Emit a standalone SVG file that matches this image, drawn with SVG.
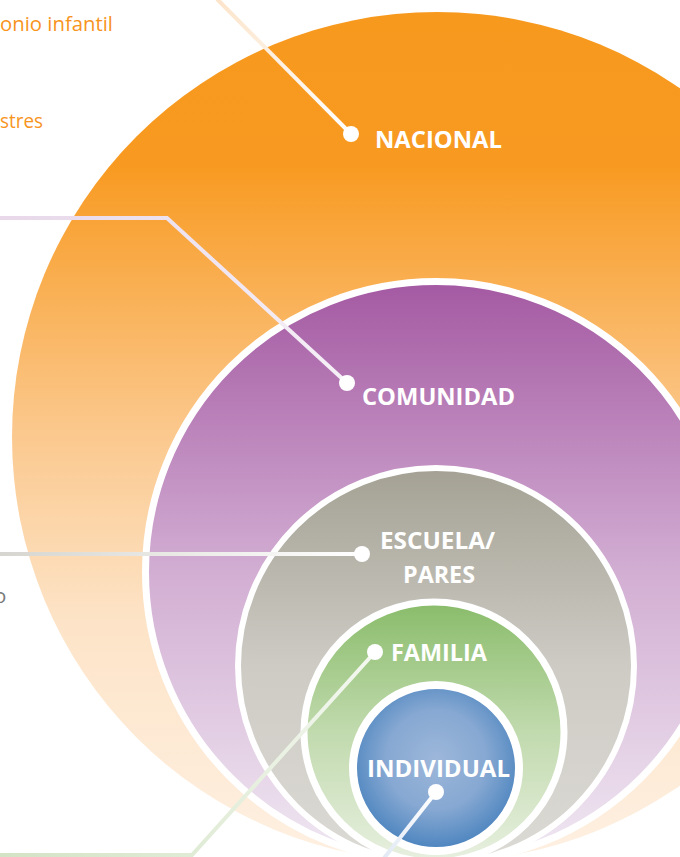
<svg xmlns="http://www.w3.org/2000/svg" width="680" height="857" viewBox="0 0 680 857">
  <defs>
    <linearGradient id="gOrange" x1="0" y1="0" x2="0" y2="1">
      <stop offset="0" stop-color="#F7991D"/>
      <stop offset="0.18" stop-color="#F89A21"/>
      <stop offset="0.5" stop-color="#FBC98F"/>
      <stop offset="0.72" stop-color="#FDE4C8"/>
      <stop offset="1" stop-color="#FEF0E2"/>
    </linearGradient>
    <linearGradient id="gPurple" x1="0" y1="0" x2="0" y2="1">
      <stop offset="0" stop-color="#A459A2"/>
      <stop offset="0.5" stop-color="#D2AED3"/>
      <stop offset="1" stop-color="#F0E8F2"/>
    </linearGradient>
    <linearGradient id="gGray" x1="0" y1="0" x2="0" y2="1">
      <stop offset="0" stop-color="#A4A194"/>
      <stop offset="0.5" stop-color="#CDCBC4"/>
      <stop offset="1" stop-color="#DCDAD4"/>
    </linearGradient>
    <linearGradient id="gGreen" x1="0" y1="0" x2="0" y2="1">
      <stop offset="0" stop-color="#89BC6A"/>
      <stop offset="0.5" stop-color="#C1DAAE"/>
      <stop offset="1" stop-color="#E8F0E0"/>
    </linearGradient>
    <radialGradient id="gBlue" cx="0.5" cy="0.45" r="0.55">
      <stop offset="0" stop-color="#9DB7DA"/>
      <stop offset="0.55" stop-color="#86A8D2"/>
      <stop offset="1" stop-color="#4A83BE"/>
    </radialGradient>
    <linearGradient id="lNac" gradientUnits="userSpaceOnUse" x1="217" y1="0" x2="351" y2="134">
      <stop offset="0" stop-color="#FCE4CA"/>
      <stop offset="1" stop-color="#FFFFFF"/>
    </linearGradient>
    <linearGradient id="lCom" gradientUnits="userSpaceOnUse" x1="0" y1="218" x2="347" y2="383">
      <stop offset="0" stop-color="#E8D8EA"/>
      <stop offset="1" stop-color="#F6F0F7"/>
    </linearGradient>
    <linearGradient id="lEsc" gradientUnits="userSpaceOnUse" x1="0" y1="554" x2="362" y2="554">
      <stop offset="0" stop-color="#D6D5CF"/>
      <stop offset="1" stop-color="#FFFFFF"/>
    </linearGradient>
    <linearGradient id="lFam" gradientUnits="userSpaceOnUse" x1="0" y1="855" x2="375" y2="652">
      <stop offset="0" stop-color="#D3E3C5"/>
      <stop offset="1" stop-color="#F4F8F0"/>
    </linearGradient>
    <linearGradient id="lInd" gradientUnits="userSpaceOnUse" x1="385" y1="857" x2="436" y2="792">
      <stop offset="0" stop-color="#E2EAF5"/>
      <stop offset="1" stop-color="#FFFFFF"/>
    </linearGradient>
  </defs>
  <style>
    .ring { stroke: #FFFFFF; }
    .label { font-family: "Open Sans", "Noto Sans", "DejaVu Sans", sans-serif; font-weight: 700; font-size: 23.5px; fill: #FFFFFF; }
    .conn { fill: none; stroke-width: 4; stroke-linejoin: miter; }
    .dot { fill: #FFFFFF; }
    .side { font-family: "Open Sans", "Noto Sans", "DejaVu Sans", sans-serif; font-size: 20.5px; }
  </style>

  <g id="side-texts">
    <text class="side" x="0" y="31" fill="#F7941D" textLength="113" lengthAdjust="spacingAndGlyphs">onio infantil</text>
    <text class="side" x="0" y="128" fill="#F7941D" textLength="43" lengthAdjust="spacingAndGlyphs">stres</text>
    <text class="side" x="-6" y="603" fill="#7A7A7A">o</text>
  </g>

  <g id="nacional">
    <circle cx="437" cy="437" r="425" fill="url(#gOrange)"/>
    <text class="label" x="375" y="148" textLength="127" lengthAdjust="spacingAndGlyphs">NACIONAL</text>
  </g>
  <g id="comunidad">
    <circle class="ring" cx="436" cy="572" r="290.5" stroke-width="7" fill="url(#gPurple)"/>
    <text class="label" x="362" y="405" textLength="153" lengthAdjust="spacingAndGlyphs">COMUNIDAD</text>
  </g>
  <g id="escuela-pares">
    <circle class="ring" cx="436" cy="666" r="198" stroke-width="6" fill="url(#gGray)"/>
    <text class="label" x="380" y="549" textLength="115" lengthAdjust="spacingAndGlyphs">ESCUELA/</text>
    <text class="label" x="403" y="583" textLength="72" lengthAdjust="spacingAndGlyphs">PARES</text>
  </g>
  <g id="familia">
    <circle class="ring" cx="434" cy="732" r="130" stroke-width="7" fill="url(#gGreen)"/>
    <text class="label" x="391" y="661" textLength="96" lengthAdjust="spacingAndGlyphs">FAMILIA</text>
  </g>
  <g id="individual">
    <circle class="ring" cx="436" cy="768" r="83" stroke-width="8" fill="url(#gBlue)"/>
  </g>

  <g id="connectors">
    <polyline class="conn" stroke="url(#lNac)" points="217,-1 351,134"/>
    <polyline class="conn" stroke="url(#lCom)" points="-2,218 167,218 347,383"/>
    <polyline class="conn" stroke="url(#lEsc)" stroke-width="5" points="-2,554 362,554"/>
    <polyline class="conn" stroke="url(#lFam)" points="375,652 192,855 -2,855"/>
    <polyline class="conn" stroke="url(#lInd)" points="436,792 381,862"/>
    <circle class="dot" cx="351" cy="134" r="8"/>
    <circle class="dot" cx="347" cy="383" r="8"/>
    <circle class="dot" cx="362" cy="554" r="8"/>
    <circle class="dot" cx="375" cy="652" r="8"/>
    <circle class="dot" cx="436" cy="792" r="8"/>
  </g>

  <g id="individual-label">
    <text class="label" x="367" y="777" textLength="143" lengthAdjust="spacingAndGlyphs">INDIVIDUAL</text>
  </g>
</svg>
